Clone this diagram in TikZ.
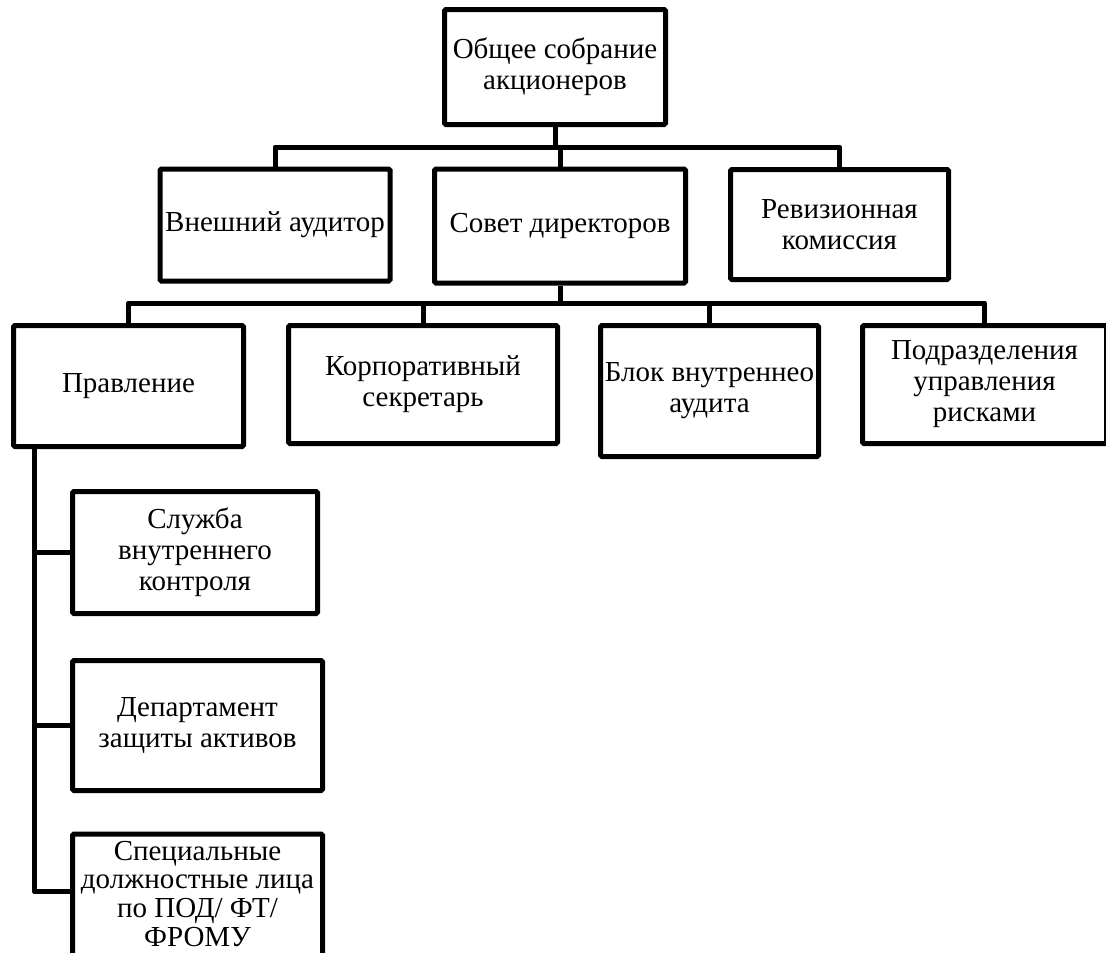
\documentclass[tikz,border=0pt]{standalone}
\usepackage{fontspec}
\setmainfont{Liberation Serif}
\usetikzlibrary{calc}
\begin{document}
\begin{tikzpicture}[x=1pt,y=-1pt,
  box/.style={draw, line width=5pt, rounded corners=1.5pt, align=center, inner sep=0pt, fill=white,
    font=\fontsize{29}{31}\selectfont},
  link/.style={line width=5pt, line join=round}]
\useasboundingbox (0,0) rectangle (1106,953);
\clip (0,0) rectangle (1106,953);
\fill[white] (0,0) rectangle (1106,953);
% nodes
\node[box, minimum width=221pt, minimum height=115pt] (osa) at (555,67) {Общее собрание\\акционеров};
\node[box, minimum width=230pt, minimum height=112pt] (ext) at (275,225) {Внешний аудитор};
\node[box, minimum width=251pt, minimum height=114pt] (sov) at (560,226) {Совет директоров};
\node[box, minimum width=218pt, minimum height=110pt] (rev) at (839.5,224.5) {Ревизионная\\комиссия};
\node[box, minimum width=230pt, minimum height=121pt] (prav) at (128.5,386) {Правление};
\node[box, minimum width=269pt, minimum height=118pt] (korp) at (423,384.5) {Корпоративный\\секретарь};
\node[box, minimum width=218pt, minimum height=131pt] (blok) at (709.5,391) {Блок внутреннео\\аудита};
\node[box, minimum width=244pt, minimum height=118pt] (podr) at (984.5,384.5) {Подразделения\\управления\\рисками};
\node[box, minimum width=245pt, minimum height=122pt] (slu) at (195,552.5) {Служба\\внутреннего\\контроля};
\node[box, minimum width=250pt, minimum height=130pt] (dep) at (197.5,725.5) {Департамент\\защиты активов};
\node[box, minimum width=250pt, anchor=north, font=\fontsize{29}{28.7}\selectfont] (spec) at (197.5,831.5)
  {\rule{0pt}{26pt}Специальные\\должностные лица\\по ПОД/ ФТ/\\ФРОМУ\rule[-40pt]{0pt}{40pt}};
% buses
\coordinate (b1) at (0,147);
\coordinate (b2) at (0,303);
\draw[link] (ext.north) -- (ext.north |- b1) -- (rev.north |- b1) -- (rev.north);
\draw[link] (osa.south) -- (osa.south |- b1);
\draw[link] (sov.north) -- (sov.north |- b1);
\draw[link] (prav.north) -- (prav.north |- b2) -- (podr.north |- b2) -- (podr.north);
\draw[link] (sov.south) -- (sov.south |- b2);
\draw[link] (korp.north) -- (korp.north |- b2);
\draw[link] (blok.north) -- (blok.north |- b2);
% spine
\path (prav.south) ++(-94.5,0) coordinate (sp);
\path (spec.north west) ++(0,60) coordinate (specin);
\draw[link] (sp) |- (specin);
\draw[link] (slu.west) -- (slu.west -| sp);
\draw[link] (dep.west) -- (dep.west -| sp);
\end{tikzpicture}
\end{document}
